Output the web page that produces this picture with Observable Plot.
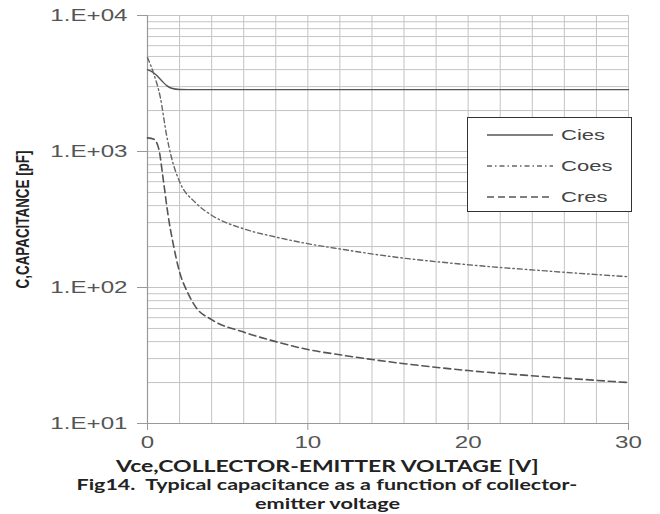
<!DOCTYPE html>
<html>
<head>
<meta charset="utf-8">
<script src="https://cdn.jsdelivr.net/npm/d3@7"></script>
<script src="https://cdn.jsdelivr.net/npm/@observablehq/plot@0.6"></script>
<style>
  body { margin: 0; background: #fff; }
  #wrap { position: relative; width: 660px; height: 514px; overflow: hidden; font-family: "Liberation Sans", Arial, sans-serif; }
  #chart { position: absolute; left: 0; top: 0; }
  .ylab { position: absolute; white-space: nowrap; font-family: "Liberation Sans", Arial, sans-serif; font-weight: bold; font-size: 13px; color: #222; line-height: 1; }
  .cap { position: absolute; white-space: nowrap; font-family: Lato, "Open Sans", sans-serif; font-weight: bold; color: #222; line-height: 1; }
  #legend { position: absolute; left: 467px; top: 117px; width: 163px; height: 93px; border: 1px solid #333; background: #fff; }
  #legend .row { position: absolute; left: 19px; height: 20px; }
  #legend .row svg { position: absolute; left: 0; top: 0; }
  #legend .row span { position: absolute; left: 74px; top: 1px; font-size: 15.5px; color: #444; white-space: nowrap; line-height: 18px; transform-origin: left center; }
</style>
</head>
<body>
<div id="wrap">
  <div id="chart"></div>
  <div id="ylab" class="ylab">C,CAPACITANCE [pF]</div>
  <div id="xlab" class="cap" style="font-size:17px;">Vce,COLLECTOR-EMITTER VOLTAGE [V]</div>
  <div id="cap1" class="cap" style="font-size:16px;">Fig14.&nbsp; Typical capacitance as a function of collector-</div>
  <div id="cap2" class="cap" style="font-size:16px;">emitter voltage</div>
  <div id="legend"></div>
</div>
<script>
// Data
const ciesV = [0, 0.3, 0.6, 0.9, 1.2, 1.5, 2, 3, 5, 10, 15, 20, 25, 30];
const ciesC = [4000, 3850, 3600, 3300, 3050, 2920, 2860, 2850, 2850, 2850, 2850, 2850, 2850, 2850];

const coesV = [0, 0.4, 0.8, 1.2, 1.5, 2, 3, 4, 6, 8, 10, 12, 15, 20, 25, 30];
const coesC = [4900, 3700, 2500, 1300, 900, 600, 420, 340, 270, 235, 210, 192, 170, 147, 132, 120];

const cresV = [0, 0.4, 0.7, 1.0, 1.3, 1.6, 2, 2.5, 3, 4, 6, 8, 10, 12, 15, 20, 25, 30];
const cresC = [1260, 1230, 1050, 600, 330, 210, 130, 92, 72, 58, 47, 40, 35, 32, 28.5, 24.5, 22, 20];

const xTicks = [0, 10, 20, 30];
const yTicks = [10, 100, 1000, 10000];
const seriesNames = ["Cies", "Coes", "Cres"];

const toRows = (xs, ys, name) => xs.map((v, i) => ({v, c: ys[i], name}));
const cies = toRows(ciesV, ciesC, "Cies");
const coes = toRows(coesV, coesC, "Coes");
const cres = toRows(cresV, cresC, "Cres");

const xGrid = d3.range(0, 31, 2);
const yGrid = [];
for (let e = 1; e <= 3; e++) for (let k = 1; k <= 9; k++) yGrid.push(k * Math.pow(10, e));
yGrid.push(10000);

const styles = {
  Cies: {stroke: "#555", strokeWidth: 1.4, dash: null},
  Coes: {stroke: "#666", strokeWidth: 1.4, dash: "5,3,1.5,3"},
  Cres: {stroke: "#555", strokeWidth: 1.6, dash: "7,4"}
};

const fmt = d => "1.E+0" + Math.round(Math.log10(d));
const STRETCH = 1.42; // the reference's lettering is drawn horizontally widened

const chart = Plot.plot({
  width: 660,
  height: 460,
  marginLeft: 147,
  marginRight: 32,
  marginTop: 15,
  marginBottom: 37,
  style: {fontFamily: "'Liberation Sans', Arial, sans-serif", background: "#fff"},
  x: {domain: [0, 30]},
  y: {type: "log", domain: [10, 10000]},
  marks: [
    Plot.gridX(xGrid, {stroke: "#c4c4c4", strokeOpacity: 1, strokeWidth: 1}),
    Plot.gridY(yGrid, {stroke: "#c4c4c4", strokeOpacity: 1, strokeWidth: 1}),
    Plot.ruleX([0], {stroke: "#999", strokeWidth: 1.2}),
    Plot.ruleY([10], {stroke: "#999", strokeWidth: 1.2}),
    Plot.axisY(yTicks, {tickFormat: fmt, tickSize: 10, tickPadding: 10, fontSize: 17, fill: "#555", stroke: "#999", label: null}),
    Plot.axisX(xTicks, {tickSize: 7, tickPadding: 5, fontSize: 17, fill: "#555", stroke: "#999", label: null}),
    Plot.line(cies, {x: "v", y: "c", curve: "monotone-x", stroke: styles.Cies.stroke, strokeWidth: styles.Cies.strokeWidth}),
    Plot.line(coes, {x: "v", y: "c", curve: "monotone-x", stroke: styles.Coes.stroke, strokeWidth: styles.Coes.strokeWidth, strokeDasharray: styles.Coes.dash}),
    Plot.line(cres, {x: "v", y: "c", curve: "monotone-x", stroke: styles.Cres.stroke, strokeWidth: styles.Cres.strokeWidth, strokeDasharray: styles.Cres.dash})
  ]
});
document.getElementById("chart").appendChild(chart);

// widen the axis tick labels like the reference
chart.querySelectorAll("text").forEach(t => {
  const len = t.getComputedTextLength();
  if (len > 0) {
    t.setAttribute("textLength", (len * STRETCH).toFixed(1));
    t.setAttribute("lengthAdjust", "spacingAndGlyphs");
  }
});

// Legend
const legend = document.getElementById("legend");
seriesNames.forEach((name, i) => {
  const s = styles[name];
  const row = document.createElement("div");
  row.className = "row";
  row.style.top = (7 + i * 31) + "px";
  row.innerHTML = `<svg width="66" height="20"><line x1="0" x2="66" y1="10" y2="10" stroke="${s.stroke}" stroke-width="${s.strokeWidth}" ${s.dash ? `stroke-dasharray="${s.dash}"` : ""}/></svg><span style="transform:scaleX(${STRETCH})">${name}</span>`;
  legend.appendChild(row);
});

// Place a text block centred at (cx, cy) with a target width
function place(id, cx, cy, targetW) {
  const el = document.getElementById(id);
  const w = el.offsetWidth, h = el.offsetHeight;
  const sx = targetW / w;
  el.style.left = (cx - w / 2) + "px";
  el.style.top = (cy - h / 2) + "px";
  el.style.transformOrigin = "center center";
  el.style.transform = `scaleX(${sx})`;
}
place("xlab", 327, 465, 423);
place("cap1", 327, 484, 501);
place("cap2", 327, 503, 145);

// Vertical label: length 138 along y, glyphs widened
(function () {
  const el = document.getElementById("ylab");
  const w = el.offsetWidth, h = el.offsetHeight;
  const s = 138 / w;
  el.style.left = (23 - w / 2) + "px";
  el.style.top = (219 - h / 2) + "px";
  el.style.transformOrigin = "center center";
  el.style.transform = `rotate(-90deg) scale(${s}, ${STRETCH})`;
})();
</script>
</body>
</html>
